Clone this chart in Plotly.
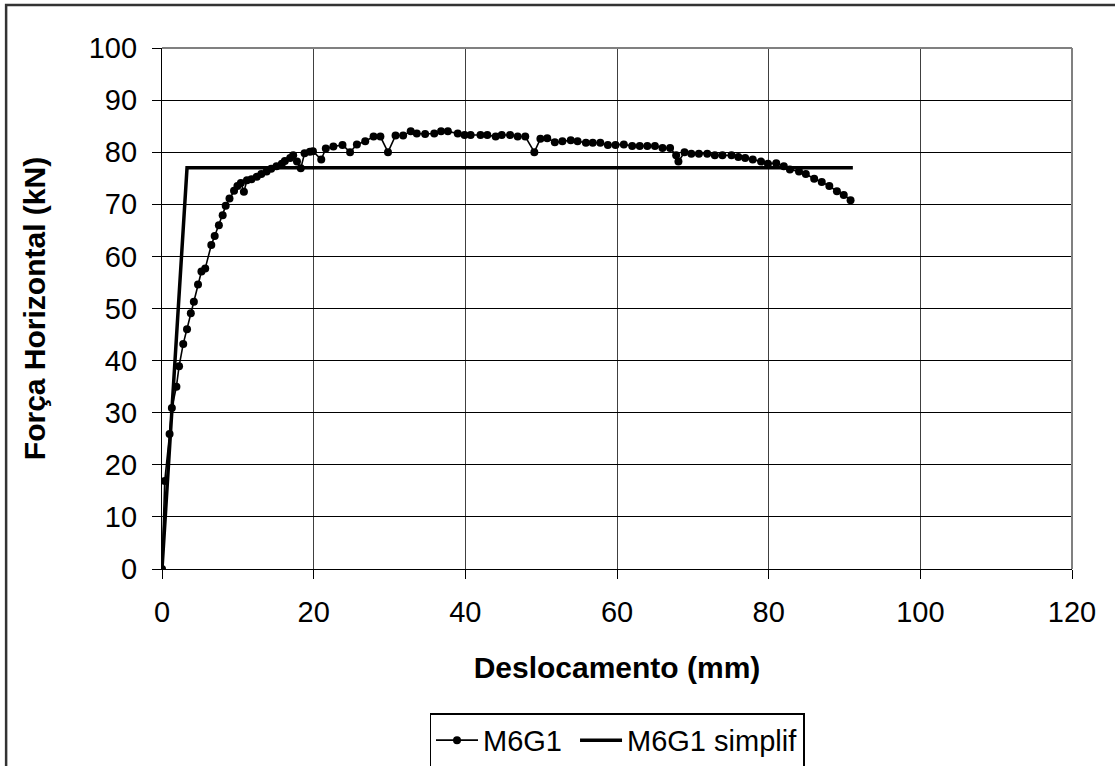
import plotly.graph_objects as go

# Measured curve M6G1 (displacement mm, horizontal force kN)
disp = [0, 0.36, 1.0, 1.3, 1.9, 2.25, 2.8, 3.3, 3.8, 4.2, 4.75, 5.2, 5.7, 6.5, 6.95,
        7.5, 8.0, 8.4, 8.9, 9.5, 9.95, 10.4, 10.8, 11.2, 11.8, 12.5, 13.1, 13.8, 14.4,
        15.1, 15.8, 16.2, 16.9, 17.3, 17.8, 18.3, 18.8, 19.5, 19.9, 21.0, 21.6, 22.6,
        23.8, 24.8, 25.7, 26.8, 27.9, 28.8, 29.8, 30.8, 31.8, 32.8, 33.6, 34.7, 35.9,
        36.8, 37.7, 39.0, 39.9, 40.7, 42.0, 42.9, 44.0, 44.8, 45.9, 46.9, 47.9, 49.1,
        49.9, 50.8, 51.8, 52.8, 53.9, 54.8, 55.9, 56.8, 57.8, 58.8, 59.8, 60.9, 62.0,
        63.0, 64.0, 65.0, 66.0, 67.0, 67.8, 68.1, 68.9, 69.8, 70.8, 71.9, 72.9, 73.9,
        75.1, 76.0, 76.9, 77.9, 79.0, 79.9, 81.0, 82.0, 82.8, 84.0, 84.9, 86.0, 87.0,
        88.0, 89.0, 89.9, 90.8]
force = [0, 16.9, 25.9, 30.9, 35.0, 38.9, 43.2, 46.0, 49.1, 51.3, 54.6, 57.1, 57.7, 62.2,
         63.9, 66.0, 67.9, 69.7, 71.1, 72.6, 73.5, 74.1, 72.4, 74.6, 74.8, 75.3, 75.8,
         76.3, 76.8, 77.3, 77.8, 78.3, 78.9, 79.4, 78.2, 76.9, 79.8, 80.1, 80.2, 78.6,
         80.7, 81.1, 81.4, 80.0, 81.5, 82.1, 83.0, 83.0, 80.0, 83.2, 83.2, 84.0, 83.6,
         83.5, 83.6, 84.0, 84.0, 83.6, 83.3, 83.3, 83.3, 83.3, 83.0, 83.3, 83.3, 83.0,
         83.0, 80.0, 82.6, 82.7, 81.9, 82.1, 82.3, 82.1, 81.8, 81.8, 81.8, 81.4, 81.4,
         81.5, 81.2, 81.2, 81.2, 81.2, 80.8, 80.8, 79.4, 78.2, 80.0, 79.7, 79.7, 79.7,
         79.4, 79.4, 79.4, 79.1, 78.9, 78.6, 78.2, 77.8, 77.9, 77.3, 76.7, 76.3, 75.8,
         74.9, 74.3, 73.5, 72.5, 71.8, 70.8]

# Simplified bilinear curve
simp_disp = [0, 3.3, 91.1]
simp_force = [0, 77.0, 77.0]

x_ticks = [0, 20, 40, 60, 80, 100, 120]
y_ticks = [0, 10, 20, 30, 40, 50, 60, 70, 80, 90, 100]

FONT = "Arial, Liberation Sans, sans-serif"

fig = go.Figure()
fig.add_trace(go.Scatter(
    x=disp, y=force, name="M6G1\u00a0", mode="lines+markers",
    line=dict(color="black", width=1.6),
    marker=dict(color="black", size=8, symbol="circle"),
))
fig.add_trace(go.Scatter(
    x=simp_disp, y=simp_force, name="M6G1 simplif", mode="lines",
    line=dict(color="black", width=3.5),
))

fig.update_layout(
    width=1115, height=766,
    margin=dict(l=162, r=43, t=48, b=197, autoexpand=False),
    paper_bgcolor="white", plot_bgcolor="white",
    font=dict(family=FONT, size=29, color="black"),
    showlegend=True,
    legend=dict(
        orientation="h", x=0.5, xanchor="center", y=-0.277, yanchor="top",
        bordercolor="black", borderwidth=1.5, bgcolor="white",
        font=dict(family=FONT, size=29, color="black"),
        itemwidth=42, tracegroupgap=0,
    ),
    xaxis=dict(
        range=[0, 120], tickvals=x_ticks, ticktext=[str(v) for v in x_ticks],
        showgrid=True, gridcolor="#404040", gridwidth=1,
        showline=True, linecolor="black", linewidth=1.2,
        ticks="outside", ticklen=9, tickcolor="black", tickwidth=1.2,
        ticklabelstandoff=8, automargin=False,
        zeroline=False,
        title=dict(text="<b>Deslocamento (mm)</b>", font=dict(family=FONT, size=30), standoff=30),
    ),
    yaxis=dict(
        range=[0, 100], tickvals=y_ticks, ticktext=[str(v) for v in y_ticks],
        showgrid=True, gridcolor="black", gridwidth=1,
        showline=True, linecolor="black", linewidth=1.2,
        ticks="outside", ticklen=9, tickcolor="black", tickwidth=1.2,
        ticklabelstandoff=9, automargin=False,
        zeroline=False,
        title=dict(text="<b>Força Horizontal (kN)</b>", font=dict(family=FONT, size=30), standoff=34),
    ),
    shapes=[
        # plot area border (top and right)
        dict(type="line", xref="paper", yref="paper", x0=0, x1=1, y0=1, y1=1,
             line=dict(color="#808080", width=2), layer="above"),
        dict(type="line", xref="paper", yref="paper", x0=1, x1=1, y0=0, y1=1,
             line=dict(color="#808080", width=2), layer="above"),
        # outer chart frame (extends past the bottom and right edges)
        dict(type="rect", xref="paper", yref="paper", x0=-0.1713, x1=1.1, y0=-0.5, y1=1.0824,
             line=dict(color="#333333", width=2.5), fillcolor="rgba(0,0,0,0)", layer="below"),
    ],
)

fig.write_html("out.html", config={"displayModeBar": False},
               post_script="document.body.style.margin='0px';")
